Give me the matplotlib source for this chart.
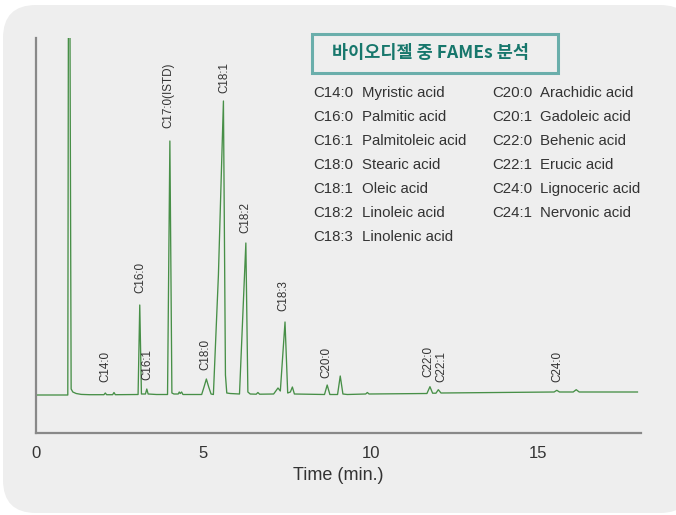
import numpy as np
import matplotlib
matplotlib.use('Agg')
import matplotlib.pyplot as plt
from matplotlib.patches import FancyBboxPatch, Rectangle

plt.rcParams['font.family'] = ['Liberation Sans', 'DejaVu Sans']

# chromatogram trace: time (min) and signal (arbitrary units, baseline = 0)
trace_time = [0.00, 0.95, 0.97, 1.01, 1.05, 1.10, 1.20, 1.35, 1.60, 2.03, 2.07, 2.11, 2.29, 2.33, 2.37,
              3.05, 3.10, 3.15, 3.27, 3.31, 3.35, 3.60, 3.93, 4.00, 4.06, 4.12, 4.25, 4.28, 4.31, 4.35, 4.39,
              4.95, 5.02, 5.09, 5.16, 5.23, 5.30, 5.45, 5.60, 5.66, 5.70, 5.80, 6.08, 6.27, 6.33, 6.40,
              6.58, 6.63, 6.68, 7.10, 7.23, 7.30, 7.44, 7.52, 7.60, 7.66, 7.72, 8.62, 8.70, 8.78,
              9.01, 9.09, 9.17, 9.30, 9.85, 9.90, 9.95, 11.68, 11.77, 11.85, 11.95, 12.02, 12.10,
              15.48, 15.56, 15.64, 16.05, 16.14, 16.23, 17.97]
trace_signal = [0.0, 0.0, 420, 420, 6.0, 3.0, 1.5, 0.6, 0.3, 0.3, 2.0, 0.3, 0.3, 2.5, 0.3,
                0.5, 90, 1.0, 1.0, 6.0, 1.0, 0.5, 0.5, 254, 2.0, 1.0, 1.0, 3.0, 1.5, 3.0, 0.5,
                0.5, 8.0, 16, 8.0, 1.0, 0.5, 120, 294, 20, 2.0, 1.5, 1.0, 152, 3.0, 1.0,
                0.8, 2.5, 0.8, 1.0, 7.0, 4.0, 73, 2.0, 3.0, 8.0, 1.0, 0.5, 10, 0.5,
                0.5, 19, 1.0, 0.5, 1.0, 2.5, 1.0, 1.5, 8.3, 1.8, 1.8, 5.3, 2.0,
                3.0, 4.7, 3.0, 3.0, 5.3, 3.0, 3.0]

# peak labels: name, time, height of label bottom
peak_names = ['C14:0', 'C16:0', 'C16:1', 'C17:0(ISTD)', 'C18:0', 'C18:1', 'C18:2',
              'C18:3', 'C20:0', 'C22:0', 'C22:1', 'C24:0']
peak_times = [2.06, 3.12, 3.34, 3.95, 5.05, 5.63, 6.27, 7.40, 8.69, 11.72, 12.12, 15.58]
label_heights = [13, 102, 15, 267, 25, 302, 162, 84, 17, 18, 13, 13]

legend_left = [('C14:0', 'Myristic acid'), ('C16:0', 'Palmitic acid'), ('C16:1', 'Palmitoleic acid'),
               ('C18:0', 'Stearic acid'), ('C18:1', 'Oleic acid'), ('C18:2', 'Linoleic acid'),
               ('C18:3', 'Linolenic acid')]
legend_right = [('C20:0', 'Arachidic acid'), ('C20:1', 'Gadoleic acid'), ('C22:0', 'Behenic acid'),
                ('C22:1', 'Erucic acid'), ('C24:0', 'Lignoceric acid'), ('C24:1', 'Nervonic acid')]

title = '바이오디젤 중 FAMEs 분석'

W, H = 676, 515
fig = plt.figure(figsize=(W / 100, H / 100), dpi=100, facecolor='white')

# rounded grey panel, drawn under the axes
panel = FancyBboxPatch((0.03, 0.02), 6.9, 5.08, boxstyle='round,pad=0,rounding_size=0.33',
                       transform=fig.dpi_scale_trans, facecolor='#eeeeee', edgecolor='none', zorder=-5)
fig.patches.append(panel)

ax = fig.add_axes([36 / W, (H - 433) / H, (641 - 36) / W, (433 - 38) / H])
ax.set_facecolor('none')
ax.plot(trace_time, trace_signal, color='#478f47', lw=0.95, clip_on=True)
ax.set_xlim(0, (641 - 36) / 33.47)
ax.set_ylim(-38, 357)

for name, t, h in zip(peak_names, peak_times, label_heights):
    ax.text(t, h, name, rotation=90, ha='center', va='bottom', fontsize=8.4, color='#333333')

for s in ['top', 'right']:
    ax.spines[s].set_visible(False)
for s in ['left', 'bottom']:
    ax.spines[s].set_color('#888888')
    ax.spines[s].set_linewidth(1.6)
ax.set_yticks([])
ax.set_xticks([0, 5, 10, 15])
ax.tick_params(axis='x', length=0, pad=9, labelsize=12, labelcolor='#333333')
ax.set_xlabel('Time (min.)', fontsize=13, color='#333333', labelpad=5)

# title box
box = Rectangle((311.7 / W, (H - 72.7) / H), 246.6 / W, 38.7 / H, transform=fig.transFigure,
                facecolor='none', edgecolor='#6aaeab', lw=2.2)
fig.patches.append(box)
fig.text(431 / W, (H - 53.5) / H, title, ha='center', va='center', fontsize=12.6,
         fontweight='bold', color='#17776c', family=['Noto Sans CJK KR', 'DejaVu Sans'])

# species legend
row0, step = 92.7, 24.0
for i, (code, acid) in enumerate(legend_left):
    y = (H - (row0 + i * step)) / H
    fig.text(313 / W, y, code, ha='left', va='center', fontsize=10.8, color='#333333')
    fig.text(362 / W, y, acid, ha='left', va='center', fontsize=10.8, color='#333333')
for i, (code, acid) in enumerate(legend_right):
    y = (H - (row0 + i * step)) / H
    fig.text(492.5 / W, y, code, ha='left', va='center', fontsize=10.8, color='#333333')
    fig.text(540.5 / W, y, acid, ha='left', va='center', fontsize=10.8, color='#333333')

fig.savefig('out.png', dpi=100, facecolor='white')
